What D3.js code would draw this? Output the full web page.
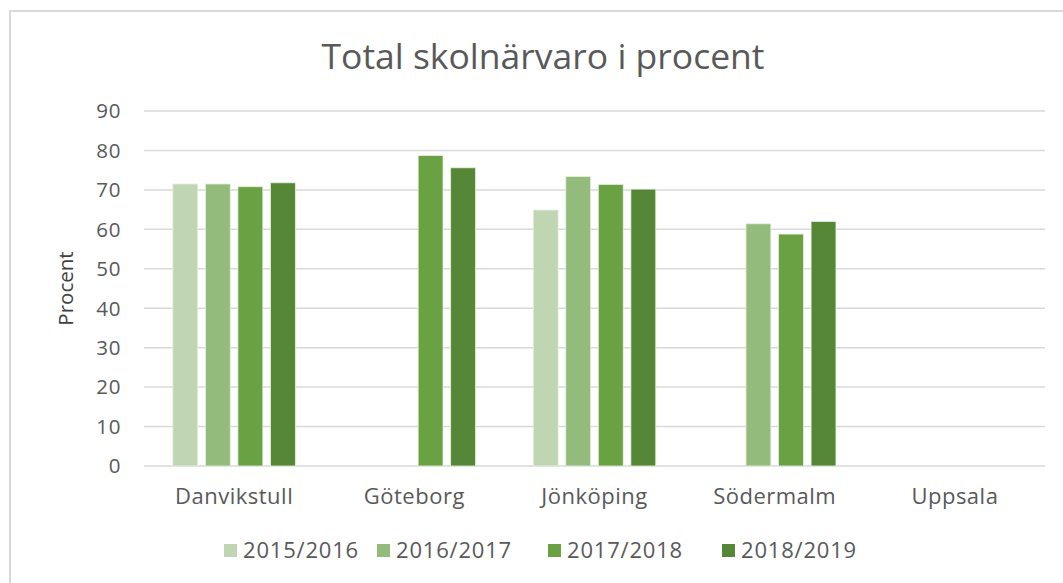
<!DOCTYPE html>
<html>
<head>
<meta charset="utf-8">
<script src="https://cdn.jsdelivr.net/npm/d3@7"></script>
<style>
  body { margin: 0; background: #fff; }
  text { font-family: "Open Sans", sans-serif; }
</style>
</head>
<body>
<div id="chart"></div>
<script>
// Data
const categories = ["Danvikstull", "Göteborg", "Jönköping", "Södermalm", "Uppsala"];
const seriesNames = ["2015/2016", "2016/2017", "2017/2018", "2018/2019"];
const s2015 = [71.5, null, 64.9, null, null];
const s2016 = [71.5, null, 73.4, 61.4, null];
const s2017 = [70.8, 78.7, 71.4, 58.8, null];
const s2018 = [71.8, 75.6, 70.2, 62.0, null];
const yTicks = [0, 10, 20, 30, 40, 50, 60, 70, 80, 90];
const colors = ["#c0d6b3", "#93bb7c", "#6aa142", "#558736"];

const seriesValues = [s2015, s2016, s2017, s2018];

// Declare the chart dimensions and margins.
const width = 1063;
const height = 583;
const marginTop = 111;
const marginRight = 18;
const marginBottom = 117;
const marginLeft = 144;

const svg = d3.create("svg").attr("width", width).attr("height", height);

// chart frame (only top & left edges are visible in the crop)
svg.append("path")
  .attr("d", `M10,${height} V11 H${width}`)
  .attr("fill", "none")
  .attr("stroke", "#d9d9d9")
  .attr("stroke-width", 2);

const x0 = d3.scaleBand()
  .domain(categories)
  .range([marginLeft, width - marginRight])
  .paddingInner(0.32)
  .paddingOuter(0.16);

const x1 = d3.scaleBand()
  .domain(seriesNames)
  .range([0, x0.bandwidth()])
  .paddingInner(0.235);

const y = d3.scaleLinear()
  .domain([0, 90])
  .range([height - marginBottom, marginTop]);

// gridlines
svg.append("g")
  .selectAll("line")
  .data(yTicks)
  .join("line")
  .attr("x1", marginLeft)
  .attr("x2", width - marginRight)
  .attr("y1", d => y(d))
  .attr("y2", d => y(d))
  .attr("stroke", "#d9d9d9")
  .attr("stroke-width", 1.5);

// y axis labels
svg.append("g")
  .selectAll("text")
  .data(yTicks)
  .join("text")
  .attr("x", 121)
  .attr("y", d => y(d))
  .attr("dy", "0.36em")
  .attr("text-anchor", "end")
  .attr("fill", "#595959")
  .attr("font-size", 20.5)
  .attr("letter-spacing", 0.6)
  .text(d => d);

// y axis title
svg.append("text")
  .attr("transform", `translate(73,${(marginTop + height - marginBottom) / 2})rotate(-90)`)
  .attr("text-anchor", "middle")
  .attr("fill", "#404040")
  .attr("font-size", 20.5)
  .text("Procent");

// bars
const rows = categories.map((c, i) => ({ cat: c, vals: seriesNames.map((s, j) => ({ s, j, v: seriesValues[j][i] })) }));

svg.append("g")
  .selectAll("g")
  .data(rows)
  .join("g")
  .attr("transform", d => `translate(${x0(d.cat)},0)`)
  .selectAll("rect")
  .data(d => d.vals.filter(e => e.v != null))
  .join("rect")
  .attr("x", d => x1(d.s))
  .attr("width", x1.bandwidth())
  .attr("y", d => y(d.v))
  .attr("height", d => y(0) - y(d.v))
  .attr("fill", d => colors[d.j])
  .attr("stroke", "#e8f0e2")
  .attr("stroke-width", 0.8);

// x labels
svg.append("g")
  .selectAll("text")
  .data(categories)
  .join("text")
  .attr("x", d => x0(d) + x0.bandwidth() / 2)
  .attr("y", 504)
  .attr("text-anchor", "middle")
  .attr("fill", "#595959")
  .attr("font-size", 22)
  .attr("letter-spacing", 0.5)
  .text(d => d);

// title
svg.append("text")
  .attr("x", 543)
  .attr("y", 69)
  .attr("text-anchor", "middle")
  .attr("fill", "#595959")
  .attr("font-size", 35.5)
  .text("Total skolnärvaro i procent");

// legend
const legendX = [224, 377, 548, 722];
const legend = svg.append("g")
  .selectAll("g")
  .data(seriesNames)
  .join("g")
  .attr("transform", (d, i) => `translate(${legendX[i]},550)`);
legend.append("rect")
  .attr("x", 0)
  .attr("y", -6)
  .attr("width", 13)
  .attr("height", 13)
  .attr("fill", (d, i) => colors[i]);
legend.append("text")
  .attr("x", 19)
  .attr("y", 0)
  .attr("dy", "0.36em")
  .attr("fill", "#595959")
  .attr("font-size", 22)
  .attr("letter-spacing", 0.8)
  .text(d => d);

d3.select("#chart").node().appendChild(svg.node());
</script>
</body>
</html>
